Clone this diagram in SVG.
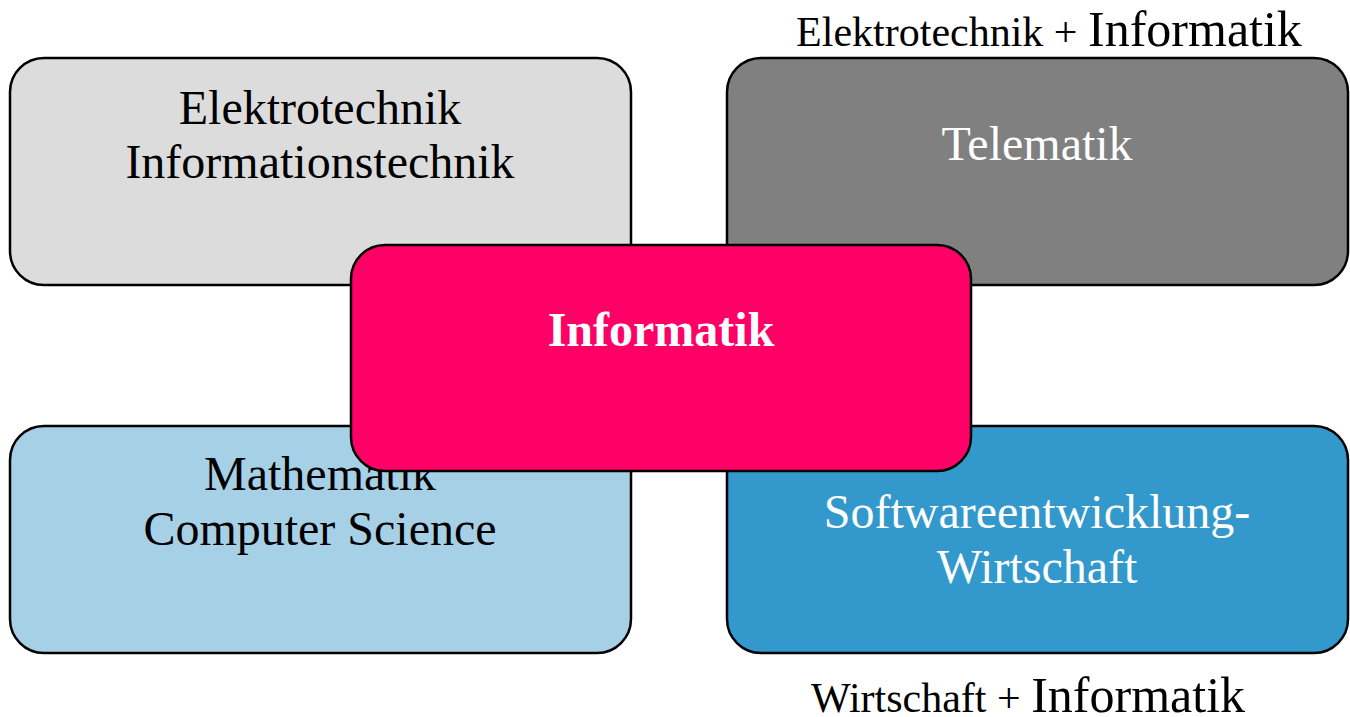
<svg xmlns="http://www.w3.org/2000/svg" width="1350" height="717" viewBox="0 0 1350 717">
<style>
.box{stroke:#000;stroke-width:2.5}
.t{font-family:"Liberation Serif","Times New Roman",serif;font-size:48px;text-anchor:middle}
.lbl{font-family:"Liberation Serif","Times New Roman",serif;font-size:42px;text-anchor:middle;fill:#000}
</style>
<rect width="1350" height="717" fill="#fff"/>
<g id="connectors"></g>
<g id="n-eit">
<rect class="box" x="10" y="58" width="621" height="227" rx="34" fill="#DCDCDC"/>
<text class="t" x="320" y="124" fill="#000">Elektrotechnik</text>
<text class="t" x="320" y="178" fill="#000">Informationstechnik</text>
</g>
<g id="n-tele">
<rect class="box" x="727" y="58" width="621" height="227" rx="34" fill="#808080"/>
<text class="t" x="1037" y="160" fill="#fff">Telematik</text>
</g>
<g id="n-math">
<rect class="box" x="10" y="426" width="621" height="227" rx="34" fill="#A6D0E6"/>
<text class="t" x="320" y="490" fill="#000">Mathematik</text>
<text class="t" x="320" y="545" fill="#000">Computer Science</text>
</g>
<g id="n-sw">
<rect class="box" x="727" y="426" width="621" height="227" rx="34" fill="#3399CC"/>
<text class="t" x="1037" y="528" fill="#fff">Softwareentwicklung-</text>
<text class="t" x="1037" y="583" fill="#fff">Wirtschaft</text>
</g>
<g id="n-inf">
<rect class="box" x="351" y="245" width="620" height="226" rx="34" fill="#FF0066"/>
<text class="t" x="661" y="346" fill="#fff" font-weight="bold">Informatik</text>
</g>
<g id="label-top">
<text class="lbl" x="1049" y="46">Elektrotechnik + <tspan font-size="50">Informatik</tspan></text>
</g>
<g id="label-bottom">
<text class="lbl" x="1028" y="712">Wirtschaft + <tspan font-size="50">Informatik</tspan></text>
</g>
</svg>
